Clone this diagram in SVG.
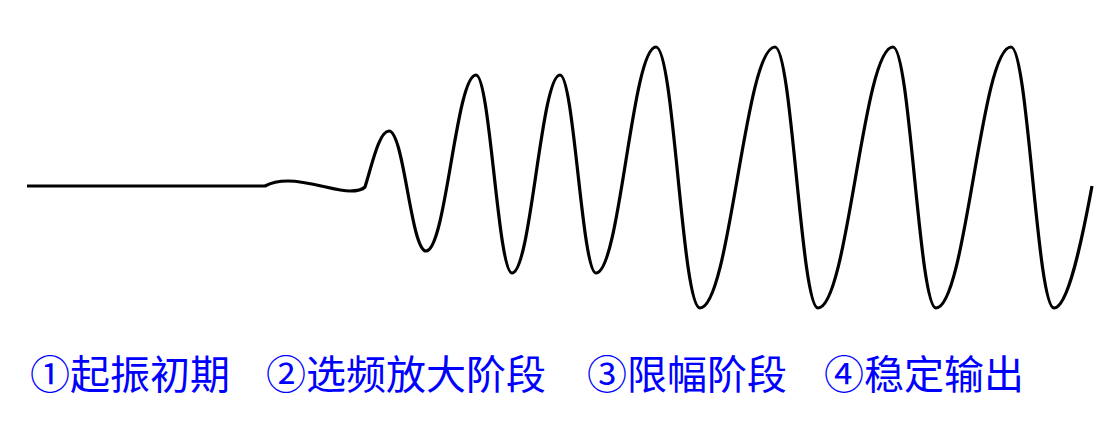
<svg xmlns="http://www.w3.org/2000/svg" width="1116" height="429" viewBox="0 0 1116 429">
<style>
.wave{fill:none;stroke:#000;stroke-width:3.2;stroke-linejoin:round;stroke-linecap:butt}
.lbl{font-family:"Noto Sans CJK SC","Noto Sans",sans-serif;font-size:40px;fill:#0000FF}
</style>
<rect width="1116" height="429" fill="#fff"/>
<g id="waveform">
<path class="wave" d="M27,186 H265 C272,182 280,181 288,181 C310,181 335,191 350,191 C358,191 363,189 365,187 C372,165 379,131 389,131 C404,131 411,251 426,251 C446,251 456,75 476,75 C490,75 498,273 512,273 C531,273 541,75 560,75 C574,75 582,273 596,273 C620,273 632,47 656,47 C674,47 682,308 700,308 C730,308 745,47 775,47 C792,47 801,308 818,308 C848,308 863,47 893,47 C910,47 919,308 936,308 C966,308 981,47 1011,47 C1028,47 1037,308 1054,308 C1068,308 1082,240 1092,186"/>
</g>
<g id="labels">
<text class="lbl" x="30" y="389">①起振初期</text>
<text class="lbl" x="266" y="389">②选频放大阶段</text>
<text class="lbl" x="587" y="389">③限幅阶段</text>
<text class="lbl" x="824" y="389">④稳定输出</text>
</g>
</svg>
